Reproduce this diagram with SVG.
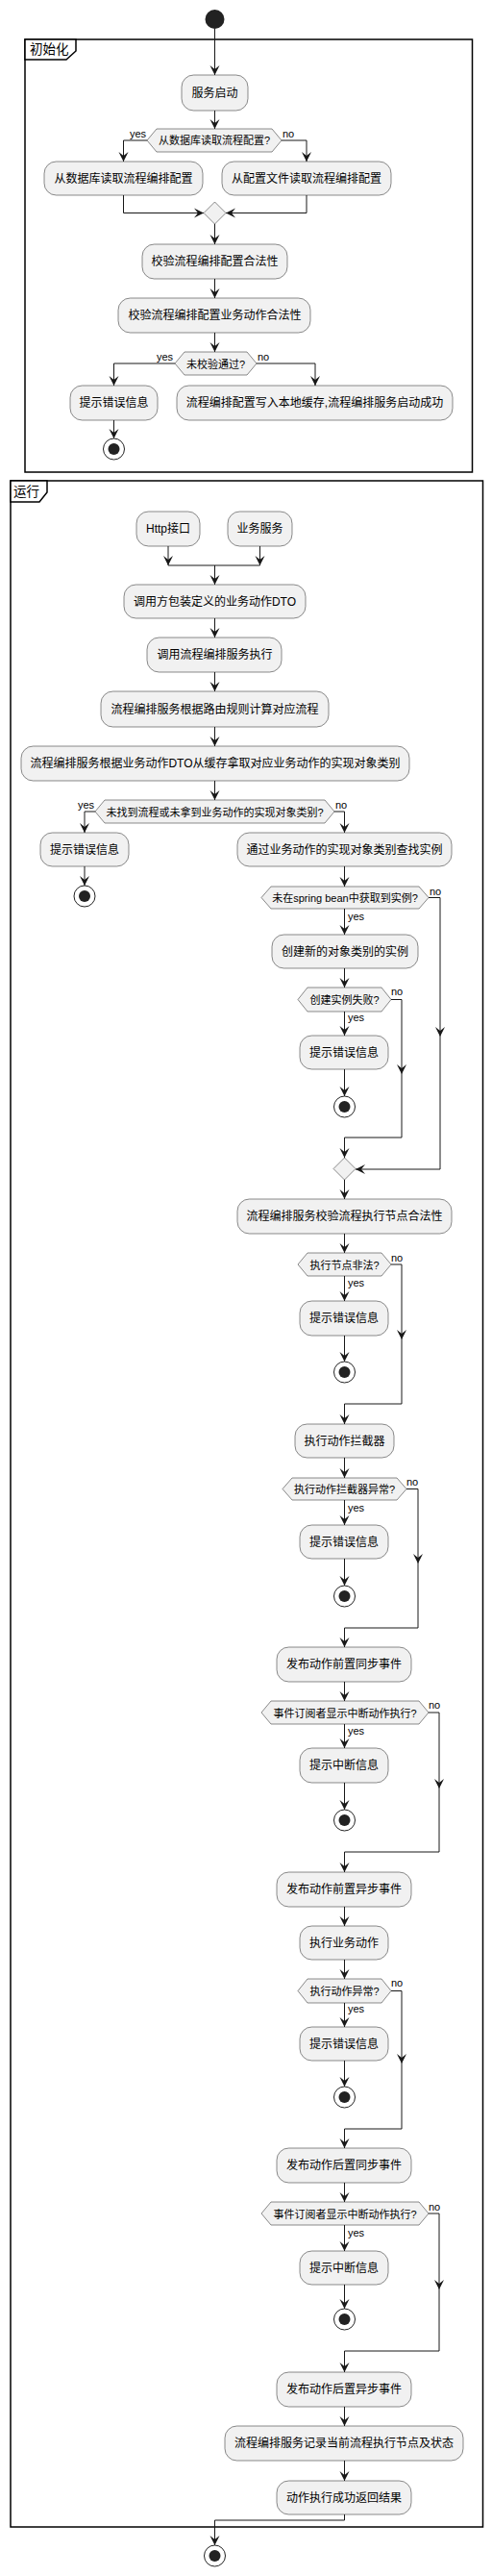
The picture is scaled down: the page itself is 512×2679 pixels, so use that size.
<svg xmlns="http://www.w3.org/2000/svg" xmlns:xlink="http://www.w3.org/1999/xlink" width="512" height="2679" viewBox="0 0 512 2679">
<style>
text{font-family:"Liberation Sans","Noto Sans CJK SC",sans-serif;fill:#000}
.box{fill:#F1F1F1;stroke:#181818;stroke-width:0.5}
.bt{font-size:12px;text-anchor:middle}
.dt{font-size:11px;text-anchor:middle}
.lbl{font-size:11px}
.lbe{font-size:11px;text-anchor:end}
.ln{fill:none;stroke:#181818;stroke-width:1}
.frame{fill:none;stroke:#000;stroke-width:1.5}
.tab{fill:#fff;stroke:#000;stroke-width:1.5}
.ft{font-size:13.5px}
.start{fill:#222}
.stopo{fill:none;stroke:#222;stroke-width:1}
.stopi{fill:#222}
.ah{fill:#181818}
</style>
<defs>
<marker id="arr" viewBox="-11 -6 12 12" refX="0" refY="0" markerWidth="12" markerHeight="12" orient="auto" markerUnits="userSpaceOnUse">
<path d="M-10,-5 L0,0 L-10,5 L-6,0 Z" fill="#181818"/>
</marker>
<path id="ad" d="M-5,-10 L0,0 L5,-10 L0,-6 Z" fill="#181818"/>
<g id="stop"><circle r="11" class="stopo"/><circle r="6" class="stopi"/></g>
</defs>

<!-- frames -->
<g id="frame-init">
<rect x="26" y="41" width="465.5" height="450" class="frame"/>
<polygon points="26,41 79,41 79,53 69,62 26,62" class="tab"/>
<text x="31" y="56" class="ft">初始化</text>
</g>
<g id="frame-run">
<rect x="11" y="500" width="491.5" height="2128" class="frame"/>
<polygon points="11,500 49,500 49,512 41,522 11,522" class="tab"/>
<text x="14" y="516" class="ft">运行</text>
</g>

<!-- connectors -->
<g id="connectors">
<path class="ln" marker-end="url(#arr)" d="M223.5,30 V78"/>
<path class="ln" marker-end="url(#arr)" d="M223.5,115 V134"/>
<path class="ln" marker-end="url(#arr)" d="M153,146 H128.5 V168"/>
<path class="ln" marker-end="url(#arr)" d="M293,146 H319 V168"/>
<path class="ln" marker-end="url(#arr)" d="M128.5,203 V221.5 H212"/>
<path class="ln" marker-end="url(#arr)" d="M319,203 V221.5 H235"/>
<path class="ln" marker-end="url(#arr)" d="M223.5,233 V254"/>
<path class="ln" marker-end="url(#arr)" d="M223.5,290 V310"/>
<path class="ln" marker-end="url(#arr)" d="M223.5,346 V366"/>
<path class="ln" marker-end="url(#arr)" d="M182,378 H118.5 V401"/>
<path class="ln" marker-end="url(#arr)" d="M267,378 H328 V401"/>
<path class="ln" marker-end="url(#arr)" d="M118.5,437 V456"/>

<path class="ln" marker-end="url(#arr)" d="M175,568 V588"/>
<path class="ln" marker-end="url(#arr)" d="M270.5,568 V588"/>
<path class="ln" d="M175,588 H270.5"/>
<path class="ln" marker-end="url(#arr)" d="M223.5,588 V608"/>
<path class="ln" marker-end="url(#arr)" d="M223.5,643 V663"/>
<path class="ln" marker-end="url(#arr)" d="M223.5,699 V719"/>
<path class="ln" marker-end="url(#arr)" d="M223.5,756 V776"/>
<path class="ln" marker-end="url(#arr)" d="M223.5,812 V832"/>
<path class="ln" marker-end="url(#arr)" d="M99,844 H88 V866"/>
<path class="ln" marker-end="url(#arr)" d="M348,844 H358.5 V866"/>
<path class="ln" marker-end="url(#arr)" d="M88,901 V921"/>
<path class="ln" marker-end="url(#arr)" d="M358.5,901 V922"/>
<path class="ln" marker-end="url(#arr)" d="M358.5,945 V972"/>
<path class="ln" marker-end="url(#arr)" d="M446,933.5 H458 V1216 H370"/>
<use xlink:href="#ad" href="#ad" x="458" y="1078"/>
<path class="ln" marker-end="url(#arr)" d="M358.5,1007 V1027"/>
<path class="ln" marker-end="url(#arr)" d="M358.5,1052 V1077"/>
<path class="ln" marker-end="url(#arr)" d="M358.5,1112 V1140"/>
<path class="ln" marker-end="url(#arr)" d="M407,1039.5 H418 V1183 H358.5 V1204"/>
<use xlink:href="#ad" href="#ad" x="418" y="1117"/>
<path class="ln" marker-end="url(#arr)" d="M358.5,1227 V1247"/>
<path class="ln" marker-end="url(#arr)" d="M358.5,1283 V1303"/>
<path class="ln" marker-end="url(#arr)" d="M358.5,1327 V1353"/>
<path class="ln" marker-end="url(#arr)" d="M358.5,1389 V1416"/>
<path class="ln" marker-end="url(#arr)" d="M407,1315 H418 V1460 H358.5 V1481"/>
<use xlink:href="#ad" href="#ad" x="418" y="1393"/>
<path class="ln" marker-end="url(#arr)" d="M358.5,1516 V1537"/>
<path class="ln" marker-end="url(#arr)" d="M358.5,1560 V1586"/>
<path class="ln" marker-end="url(#arr)" d="M358.5,1621 V1649"/>
<path class="ln" marker-end="url(#arr)" d="M423,1548.5 H435 V1693 H358.5 V1713"/>
<use xlink:href="#ad" href="#ad" x="435" y="1626"/>
<path class="ln" marker-end="url(#arr)" d="M358.5,1749 V1769"/>
<path class="ln" marker-end="url(#arr)" d="M358.5,1793 V1818"/>
<path class="ln" marker-end="url(#arr)" d="M358.5,1854 V1882"/>
<path class="ln" marker-end="url(#arr)" d="M446,1781 H457 V1926 H358.5 V1947"/>
<use xlink:href="#ad" href="#ad" x="457" y="1860"/>
<path class="ln" marker-end="url(#arr)" d="M358.5,1983 V2003"/>
<path class="ln" marker-end="url(#arr)" d="M358.5,2038 V2058"/>
<path class="ln" marker-end="url(#arr)" d="M358.5,2083 V2108"/>
<path class="ln" marker-end="url(#arr)" d="M358.5,2143 V2170"/>
<path class="ln" marker-end="url(#arr)" d="M407,2070.5 H418 V2214 H358.5 V2234"/>
<use xlink:href="#ad" href="#ad" x="418" y="2146"/>
<path class="ln" marker-end="url(#arr)" d="M358.5,2270 V2290"/>
<path class="ln" marker-end="url(#arr)" d="M358.5,2314 V2341"/>
<path class="ln" marker-end="url(#arr)" d="M358.5,2376 V2401"/>
<path class="ln" marker-end="url(#arr)" d="M446,2302 H457 V2445 H358.5 V2467"/>
<use xlink:href="#ad" href="#ad" x="457" y="2381"/>
<path class="ln" marker-end="url(#arr)" d="M358.5,2503 V2523"/>
<path class="ln" marker-end="url(#arr)" d="M358.5,2559 V2580"/>
<path class="ln" marker-end="url(#arr)" d="M358.5,2615 V2621 H223.5 V2647"/>

<text x="152" y="143" class="lbe">yes</text>
<text x="294" y="143" class="lbl">no</text>
<text x="180" y="375" class="lbe">yes</text>
<text x="268" y="375" class="lbl">no</text>
<text x="98" y="841" class="lbe">yes</text>
<text x="349" y="841" class="lbl">no</text>
<text x="447" y="931" class="lbl">no</text>
<text x="362" y="957" class="lbl">yes</text>
<text x="407" y="1035" class="lbl">no</text>
<text x="362" y="1062" class="lbl">yes</text>
<text x="407" y="1312" class="lbl">no</text>
<text x="362" y="1338" class="lbl">yes</text>
<text x="423" y="1545" class="lbl">no</text>
<text x="362" y="1572" class="lbl">yes</text>
<text x="446" y="1777" class="lbl">no</text>
<text x="362" y="1804" class="lbl">yes</text>
<text x="407" y="2066" class="lbl">no</text>
<text x="362" y="2093" class="lbl">yes</text>
<text x="446" y="2299" class="lbl">no</text>
<text x="362" y="2326" class="lbl">yes</text>
</g>

<!-- init nodes -->
<g id="start1"><circle cx="223.5" cy="20" r="10" class="start"/></g>
<g id="n-start-service"><rect x="189" y="78" width="69" height="37" rx="12.5" class="box"/><text x="223.5" y="100.5" class="bt">服务启动</text></g>
<g id="d-read-db"><polygon points="153,146 163,134 283,134 293,146 283,158 163,158" class="box"/><text x="223" y="150" class="dt">从数据库读取流程配置?</text></g>
<g id="n-read-db"><rect x="46" y="168" width="165" height="35" rx="12.5" class="box"/><text x="128.5" y="190" class="bt">从数据库读取流程编排配置</text></g>
<g id="n-read-file"><rect x="231" y="168" width="176" height="35" rx="12.5" class="box"/><text x="319" y="190" class="bt">从配置文件读取流程编排配置</text></g>
<g id="m-1"><polygon points="223.5,210 235,221.5 223.5,233 212,221.5" class="box"/></g>
<g id="n-check-config"><rect x="148" y="254" width="151" height="36" rx="12.5" class="box"/><text x="223.5" y="276" class="bt">校验流程编排配置合法性</text></g>
<g id="n-check-action"><rect x="123" y="310" width="200" height="36" rx="12.5" class="box"/><text x="223.5" y="332" class="bt">校验流程编排配置业务动作合法性</text></g>
<g id="d-not-pass"><polygon points="182,378 192,366 257,366 267,378 257,390 192,390" class="box"/><text x="224.5" y="382.5" class="dt">未校验通过?</text></g>
<g id="n-err-1"><rect x="73" y="401" width="91" height="36" rx="12.5" class="box"/><text x="118.5" y="423" class="bt">提示错误信息</text></g>
<g id="n-cache"><rect x="184" y="401" width="287" height="36" rx="12.5" class="box"/><text x="327.5" y="423" class="bt">流程编排配置写入本地缓存,流程编排服务启动成功</text></g>
<g id="stop-1"><use xlink:href="#stop" href="#stop" x="118.5" y="467"/></g>

<!-- run nodes -->
<g id="n-http"><rect x="142" y="532" width="66" height="36" rx="12.5" class="box"/><text x="175" y="554" class="bt">Http接口</text></g>
<g id="n-biz"><rect x="237" y="532" width="67" height="36" rx="12.5" class="box"/><text x="270.5" y="554" class="bt">业务服务</text></g>
<g id="n-dto"><rect x="129" y="608" width="189" height="35" rx="12.5" class="box"/><text x="223.5" y="630" class="bt">调用方包装定义的业务动作DTO</text></g>
<g id="n-call"><rect x="153" y="663" width="140" height="36" rx="12.5" class="box"/><text x="223.5" y="685" class="bt">调用流程编排服务执行</text></g>
<g id="n-route"><rect x="105" y="719" width="237" height="37" rx="12.5" class="box"/><text x="223.5" y="741.5" class="bt">流程编排服务根据路由规则计算对应流程</text></g>
<g id="n-fetch"><rect x="22" y="776" width="404" height="36" rx="12.5" class="box"/><text x="224" y="798" class="bt">流程编排服务根据业务动作DTO从缓存拿取对应业务动作的实现对象类别</text></g>
<g id="d-notfound"><polygon points="99,844 109,832 338,832 348,844 338,856 109,856" class="box"/><text x="223.5" y="848.5" class="dt">未找到流程或未拿到业务动作的实现对象类别?</text></g>
<g id="n-err-2"><rect x="42" y="866" width="92" height="35" rx="12.5" class="box"/><text x="88" y="888" class="bt">提示错误信息</text></g>
<g id="stop-2"><use xlink:href="#stop" href="#stop" x="88" y="932"/></g>
<g id="n-find"><rect x="247" y="866" width="223" height="35" rx="12.5" class="box"/><text x="358.5" y="888" class="bt">通过业务动作的实现对象类别查找实例</text></g>
<g id="d-nobean"><polygon points="272,933.5 282,922 436,922 446,933.5 436,945 282,945" class="box"/><text x="359" y="938" class="dt">未在spring bean中获取到实例?</text></g>
<g id="n-create"><rect x="283" y="972" width="152" height="35" rx="12.5" class="box"/><text x="359" y="994" class="bt">创建新的对象类别的实例</text></g>
<g id="d-createfail"><polygon points="310,1039.5 320,1027 397,1027 407,1039.5 397,1052 320,1052" class="box"/><text x="358.5" y="1044" class="dt">创建实例失败?</text></g>
<g id="n-err-3"><rect x="312" y="1077" width="92" height="35" rx="12.5" class="box"/><text x="358" y="1099" class="bt">提示错误信息</text></g>
<g id="stop-3"><use xlink:href="#stop" href="#stop" x="358.5" y="1151"/></g>
<g id="m-2"><polygon points="358.5,1204 370,1215.5 358.5,1227 347,1215.5" class="box"/></g>
<g id="n-validate"><rect x="247" y="1247" width="223" height="36" rx="12.5" class="box"/><text x="358.5" y="1269" class="bt">流程编排服务校验流程执行节点合法性</text></g>
<g id="d-illegal"><polygon points="310,1315 320,1303 397,1303 407,1315 397,1327 320,1327" class="box"/><text x="358.5" y="1319.5" class="dt">执行节点非法?</text></g>
<g id="n-err-4"><rect x="312" y="1353" width="92" height="36" rx="12.5" class="box"/><text x="358" y="1375" class="bt">提示错误信息</text></g>
<g id="stop-4"><use xlink:href="#stop" href="#stop" x="358.5" y="1427"/></g>
<g id="n-interceptor"><rect x="307" y="1481" width="103" height="35" rx="12.5" class="box"/><text x="358.5" y="1503" class="bt">执行动作拦截器</text></g>
<g id="d-intercept-err"><polygon points="294,1548.5 304,1537 413,1537 423,1548.5 413,1560 304,1560" class="box"/><text x="358.5" y="1553" class="dt">执行动作拦截器异常?</text></g>
<g id="n-err-5"><rect x="312" y="1586" width="92" height="35" rx="12.5" class="box"/><text x="358" y="1608" class="bt">提示错误信息</text></g>
<g id="stop-5"><use xlink:href="#stop" href="#stop" x="358.5" y="1660"/></g>
<g id="n-pre-sync"><rect x="288" y="1713" width="140" height="36" rx="12.5" class="box"/><text x="358" y="1735" class="bt">发布动作前置同步事件</text></g>
<g id="d-interrupt-1"><polygon points="272,1781 282,1769 436,1769 446,1781 436,1793 282,1793" class="box"/><text x="359" y="1785.5" class="dt">事件订阅者显示中断动作执行?</text></g>
<g id="n-int-1"><rect x="312" y="1818" width="92" height="36" rx="12.5" class="box"/><text x="358" y="1840" class="bt">提示中断信息</text></g>
<g id="stop-6"><use xlink:href="#stop" href="#stop" x="358.5" y="1893"/></g>
<g id="n-pre-async"><rect x="288" y="1947" width="140" height="36" rx="12.5" class="box"/><text x="358" y="1969" class="bt">发布动作前置异步事件</text></g>
<g id="n-exec"><rect x="312" y="2003" width="92" height="35" rx="12.5" class="box"/><text x="358" y="2025" class="bt">执行业务动作</text></g>
<g id="d-exec-err"><polygon points="310,2070.5 320,2058 397,2058 407,2070.5 397,2083 320,2083" class="box"/><text x="358.5" y="2075" class="dt">执行动作异常?</text></g>
<g id="n-err-6"><rect x="312" y="2108" width="92" height="35" rx="12.5" class="box"/><text x="358" y="2130" class="bt">提示错误信息</text></g>
<g id="stop-7"><use xlink:href="#stop" href="#stop" x="358.5" y="2181"/></g>
<g id="n-post-sync"><rect x="288" y="2234" width="140" height="36" rx="12.5" class="box"/><text x="358" y="2256" class="bt">发布动作后置同步事件</text></g>
<g id="d-interrupt-2"><polygon points="272,2302 282,2290 436,2290 446,2302 436,2314 282,2314" class="box"/><text x="359" y="2306.5" class="dt">事件订阅者显示中断动作执行?</text></g>
<g id="n-int-2"><rect x="312" y="2341" width="92" height="35" rx="12.5" class="box"/><text x="358" y="2363" class="bt">提示中断信息</text></g>
<g id="stop-8"><use xlink:href="#stop" href="#stop" x="358.5" y="2412"/></g>
<g id="n-post-async"><rect x="288" y="2467" width="140" height="36" rx="12.5" class="box"/><text x="358" y="2489" class="bt">发布动作后置异步事件</text></g>
<g id="n-record"><rect x="234" y="2523" width="248" height="36" rx="12.5" class="box"/><text x="358" y="2545" class="bt">流程编排服务记录当前流程执行节点及状态</text></g>
<g id="n-return"><rect x="288" y="2580" width="140" height="35" rx="12.5" class="box"/><text x="358" y="2602" class="bt">动作执行成功返回结果</text></g>
<g id="stop-9"><use xlink:href="#stop" href="#stop" x="223.5" y="2658"/></g>
</svg>
